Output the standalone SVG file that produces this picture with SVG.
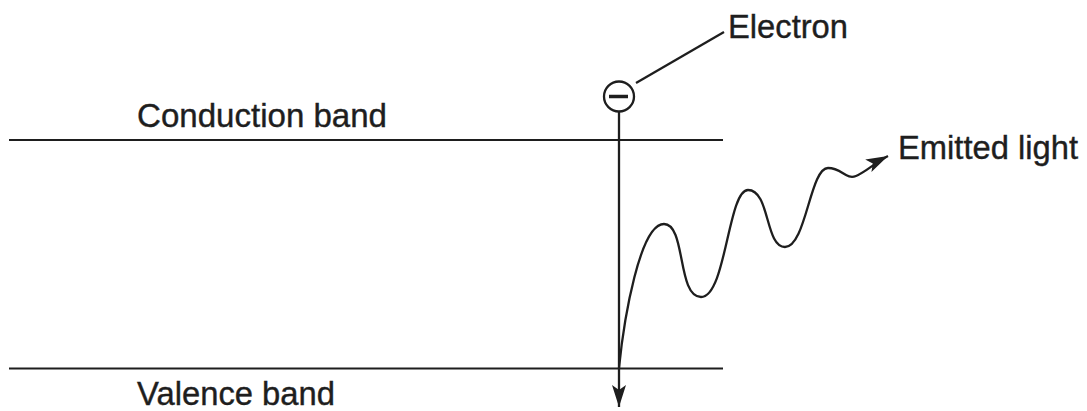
<svg xmlns="http://www.w3.org/2000/svg" width="1087" height="411" viewBox="0 0 1087 411">
  <style>
    .lbl { font-family: "Liberation Sans", Arial, sans-serif; font-size: 34px; fill: #1e1e1e; stroke: #1e1e1e; stroke-width: 0.4; }
    .band { stroke: #1e1e1e; stroke-width: 2.2; fill: none; }
    .conn { stroke: #1e1e1e; stroke-width: 2.3; fill: none; }
  </style>
  <defs>
    <marker id="arrow" markerUnits="userSpaceOnUse" markerWidth="26" markerHeight="16" refX="22" refY="7" orient="auto">
      <path d="M0,0 L22,7 L0,14 L5,7 z" fill="#1e1e1e"/>
    </marker>
  </defs>
  <rect width="1087" height="411" fill="#ffffff"/>

  <g id="conduction-band">
    <line class="band" x1="9" y1="140" x2="723" y2="140"/>
    <text class="lbl" x="137" y="127" textLength="250" lengthAdjust="spacingAndGlyphs">Conduction band</text>
  </g>

  <g id="valence-band">
    <line class="band" x1="9" y1="368.5" x2="723" y2="368.5"/>
    <text class="lbl" x="137" y="405" textLength="198" lengthAdjust="spacingAndGlyphs">Valence band</text>
  </g>

  <g id="electron">
    <circle cx="619" cy="96.5" r="15" fill="#ffffff" stroke="#1e1e1e" stroke-width="2.3"/>
    <line x1="609" y1="96.5" x2="628" y2="96.5" stroke="#1e1e1e" stroke-width="3.5"/>
    <text class="lbl" x="728" y="38" textLength="120" lengthAdjust="spacingAndGlyphs">Electron</text>
  </g>

  <g id="emitted-light">
    <text class="lbl" x="898" y="159" textLength="180" lengthAdjust="spacingAndGlyphs">Emitted light</text>
  </g>

  <g id="connectors">
    <line class="conn" x1="636" y1="83" x2="724" y2="32"/>
    <line class="conn" x1="619" y1="112" x2="619" y2="407" marker-end="url(#arrow)"/>
    <path class="conn" d="M619,368 C624,318 640,224 664,224 C686,224 677,297 701,297 C726,297 728,190 748,190 C770,190 765,247 785,247 C806,247 810,168 828,168 C842,168 846,180 856,176 C866,172 876,162 888,156" marker-end="url(#arrow)"/>
  </g>
</svg>
